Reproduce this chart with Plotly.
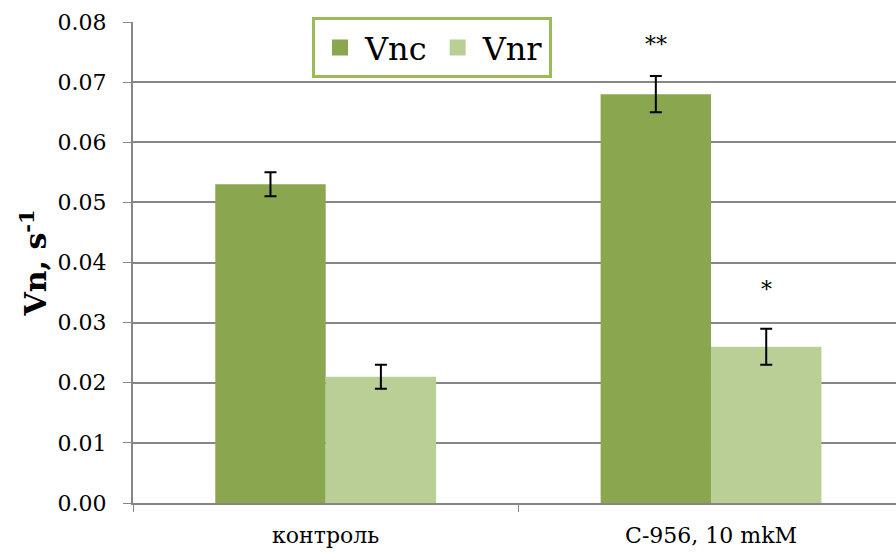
import plotly.graph_objects as go

categories = ["контроль", "C-956, 10 mkM"]
vnc = [0.053, 0.068]
vnc_err = [0.002, 0.003]
vnr = [0.021, 0.026]
vnr_err = [0.002, 0.003]
marks_vnc = ["", "**"]
marks_vnc_y = [None, 0.0763]
marks_vnr = ["", "*"]
marks_vnr_y = [None, 0.0355]
yticks = [0.0, 0.01, 0.02, 0.03, 0.04, 0.05, 0.06, 0.07, 0.08]

c_dark = "#8AA74F"
c_light = "#BACF96"
font = "DejaVu Serif"

fig = go.Figure()
fig.add_trace(go.Bar(x=categories, y=vnc, name="Vnc", marker=dict(color=c_dark, line=dict(width=0)),
                     error_y=dict(type="data", array=vnc_err, color="black", thickness=2, width=6),
                     showlegend=False))
fig.add_trace(go.Bar(x=categories, y=vnr, name="Vnr", marker=dict(color=c_light, line=dict(width=0)),
                     error_y=dict(type="data", array=vnr_err, color="black", thickness=2, width=6),
                     showlegend=False))
# legend entries
fig.add_trace(go.Scatter(x=[None], y=[None], mode="markers", name="Vnc",
                         marker=dict(symbol="square", size=20, color=c_dark)))
fig.add_trace(go.Scatter(x=[None], y=[None], mode="markers", name="Vnr",
                         marker=dict(symbol="square", size=20, color=c_light)))

# significance marks
for i, cat in enumerate(categories):
    if marks_vnc[i]:
        fig.add_annotation(x=cat, y=marks_vnc_y[i], text=marks_vnc[i], showarrow=False,
                           xshift=-55, font=dict(size=22, color="black", family=font))
    if marks_vnr[i]:
        fig.add_annotation(x=cat, y=marks_vnr_y[i], text=marks_vnr[i], showarrow=False,
                           xshift=55, font=dict(size=22, color="black", family=font))

fig.update_layout(
    width=896, height=552,
    margin=dict(l=133, r=0, t=22, b=49),
    paper_bgcolor="white", plot_bgcolor="white",
    barmode="group", bargap=0.427, bargroupgap=0,
    font=dict(family=font, color="black"),
    legend=dict(orientation="h", x=0.2346, xanchor="left", y=1.01, yanchor="top",
                bordercolor="#9BBB59", borderwidth=3, bgcolor="white",
                font=dict(size=32, family=font, color="black"), itemsizing="trace",
                itemwidth=40, tracegroupgap=0),
    xaxis=dict(range=[-0.5, 1.48], showline=True, linecolor="#868686", linewidth=2,
               ticks="outside", tickson="boundaries", ticklen=7, tickcolor="#868686",
               tickfont=dict(size=22, family=font), showgrid=False, ticklabelstandoff=12),
    yaxis=dict(range=[0, 0.08], tickvals=yticks, tickformat=".2f",
               showline=True, linecolor="#868686", linewidth=2,
               ticks="outside", ticklen=8, tickcolor="#868686",
               showgrid=True, gridcolor="#868686", gridwidth=1.5,
               tickfont=dict(size=22, family=font), ticklabelstandoff=12,
               title=dict(text="<b>Vn, s<sup>-1</sup></b>", font=dict(size=30, family=font), standoff=2)),
)

fig.write_html("out.html")
